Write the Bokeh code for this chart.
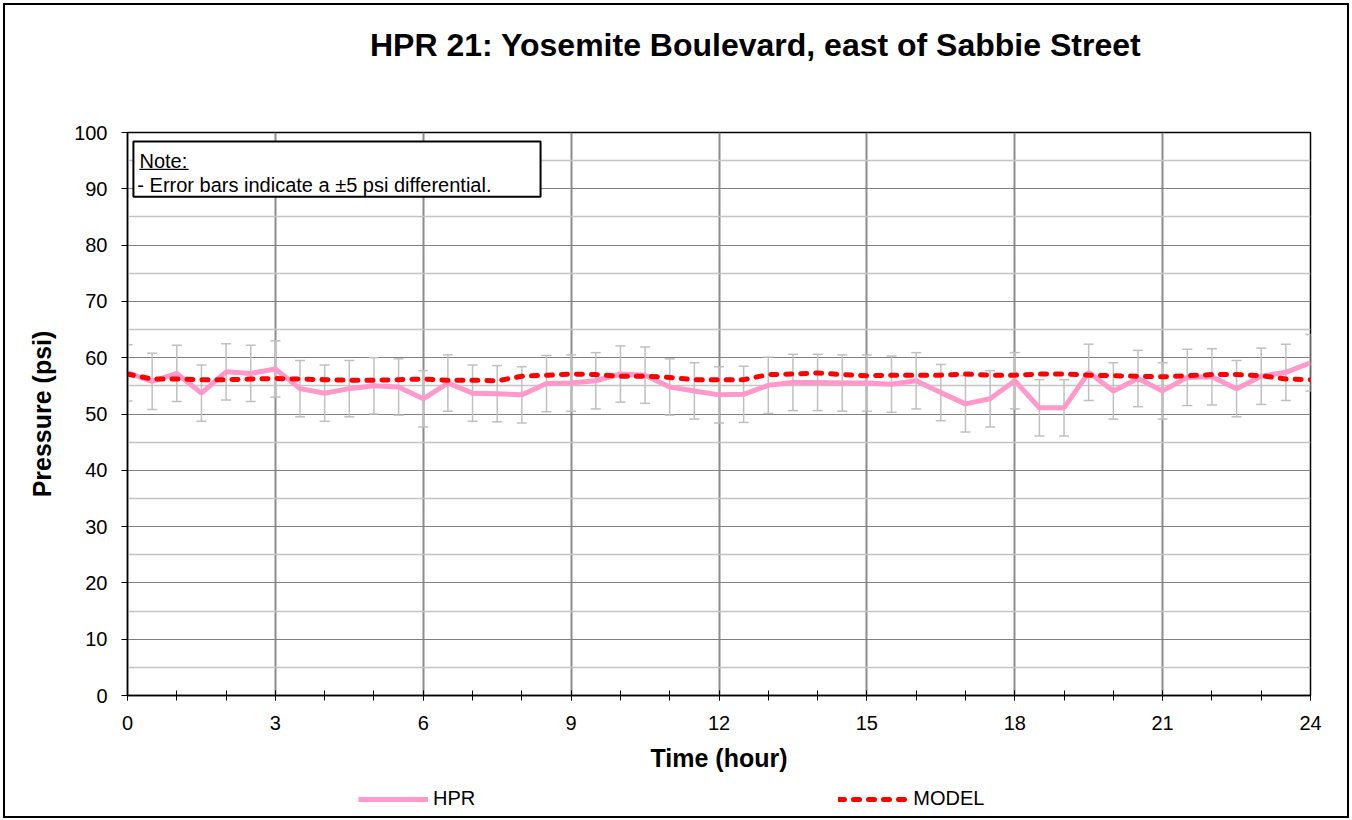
from bokeh.plotting import figure
from bokeh.layouts import column
from bokeh.models import (Range1d, FixedTicker, Label, BoxAnnotation, Legend,
                          LegendItem, ColumnDataSource, Div)
from bokeh.embed import file_html
from bokeh.resources import INLINE

# ---------------- data ----------------
hours = [0, 0.5, 1, 1.5, 2, 2.5, 3, 3.5, 4, 4.5, 5, 5.5, 6, 6.5, 7, 7.5, 8, 8.5,
         9, 9.5, 10, 10.5, 11, 11.5, 12, 12.5, 13, 13.5, 14, 14.5, 15, 15.5, 16,
         16.5, 17, 17.5, 18, 18.5, 19, 19.5, 20, 20.5, 21, 21.5, 22, 22.5, 23,
         23.5, 24]
hpr = [57.3, 55.8, 57.2, 53.7, 57.5, 57.2, 58.0, 54.5, 53.7, 54.5, 55.0, 54.8,
       52.7, 55.5, 53.7, 53.6, 53.4, 55.4, 55.5, 55.9, 57.1, 56.9, 54.8, 54.1,
       53.4, 53.5, 55.1, 55.6, 55.6, 55.5, 55.5, 55.3, 55.9, 53.8, 51.8, 52.7,
       55.9, 51.1, 51.1, 57.4, 54.1, 56.3, 54.1, 56.5, 56.6, 54.5, 56.7, 57.4,
       59.1]
model = [57.1, 56.2, 56.2, 56.1, 56.1, 56.2, 56.3, 56.2, 56.1, 56.0, 56.0, 56.1,
         56.2, 56.0, 56.0, 55.9, 56.7, 56.9, 57.1, 57.0, 56.7, 56.7, 56.5, 56.1,
         56.1, 56.1, 57.0, 57.1, 57.3, 57.0, 56.8, 56.9, 56.9, 56.9, 57.1, 56.9,
         56.9, 57.1, 57.1, 56.9, 56.8, 56.7, 56.6, 56.8, 57.0, 57.0, 56.8, 56.2,
         56.1]
err_psi = 5
x_ticks = [0, 3, 6, 9, 12, 15, 18, 21, 24]
x_minor_ticks = [0, 1, 2, 3, 4, 5, 6, 7, 8, 9, 10, 11, 12, 13, 14, 15, 16, 17,
                 18, 19, 20, 21, 22, 23, 24]
y_ticks = [0, 10, 20, 30, 40, 50, 60, 70, 80, 90, 100]
y_minor_ticks = [5, 15, 25, 35, 45, 55, 65, 75, 85, 95]

title_text = "HPR 21: Yosemite Boulevard, east of Sabbie Street"
x_title = "Time (hour)"
y_title = "Pressure (psi)"
note_head = "Note:"
note_body = "- Error bars indicate a \u00b15 psi differential."
series_names = ["HPR", "MODEL"]

FONT = "Liberation Sans"
HPR_STYLE = dict(line_color="#FF99CC", line_width=5)
MODEL_STYLE = dict(line_color="#FF0000", line_width=5, line_dash="6 9",
                   line_cap="round")

src = ColumnDataSource(dict(
    t=hours, hpr=hpr, model=model,
    lo=[v - err_psi for v in hpr], hi=[v + err_psi for v in hpr]))

W = 1342

# ---------------- title ----------------
title_div = Div(
    text=('<div style="margin-top:22px;line-height:36px;height:36px;'
          'padding-left:365px;white-space:nowrap;'
          'font-family:\'Liberation Sans\';font-size:32px;font-weight:bold;'
          'color:black;">' + title_text + '</div>'),
    width=W, height=80, margin=0)

# ---------------- main chart ----------------
p = figure(width=W, height=695, output_backend="svg", toolbar_location=None,
           x_range=Range1d(0, 24), y_range=Range1d(0, 100),
           min_border_left=122, min_border_right=37,
           min_border_top=47, min_border_bottom=85, margin=0)
p.title.visible = False
p.background_fill_color = "white"
p.border_fill_color = "white"
p.outline_line_color = "black"
p.outline_line_width = 1.5

p.xaxis.ticker = FixedTicker(ticks=x_ticks, minor_ticks=x_minor_ticks)
p.yaxis.ticker = FixedTicker(ticks=y_ticks, minor_ticks=y_minor_ticks)
for ax in (p.xaxis[0], p.yaxis[0]):
    ax.axis_line_color = "black"
    ax.axis_line_width = 1.5
    ax.major_tick_line_color = "black"
    ax.minor_tick_line_color = "black"
    ax.major_label_text_font = FONT
    ax.major_label_text_font_size = "20px"
    ax.major_label_text_color = "black"
    ax.axis_label_text_font = FONT
    ax.axis_label_text_font_style = "bold"
    ax.axis_label_text_font_size = "25px"
    ax.axis_label_text_color = "black"

p.xaxis.axis_label = x_title
p.xaxis.major_tick_in = 5
p.xaxis.major_tick_out = 5
p.xaxis.minor_tick_in = 5
p.xaxis.minor_tick_out = 5
p.xaxis.major_label_standoff = 15
p.xaxis.axis_label_standoff = 11

p.yaxis.axis_label = y_title
p.yaxis.major_tick_in = 0
p.yaxis.major_tick_out = 6
p.yaxis.minor_tick_in = 0
p.yaxis.minor_tick_out = 0
p.yaxis.major_label_standoff = 14
p.yaxis.axis_label_standoff = 15

p.xgrid.ticker = FixedTicker(ticks=x_ticks)
p.xgrid.grid_line_color = "#8c8c8c"
p.xgrid.grid_line_width = 2
p.ygrid.ticker = FixedTicker(ticks=y_ticks, minor_ticks=y_minor_ticks)
p.ygrid.grid_line_color = "#808080"
p.ygrid.grid_line_width = 1
p.ygrid.minor_grid_line_color = "#c4c4c4"
p.ygrid.minor_grid_line_width = 1.5

# error bars
p.segment(x0="t", y0="lo", x1="t", y1="hi", source=src,
          line_color="#c0c0c0", line_width=1.5)
p.scatter(x="t", y="hi", source=src, marker="dash", size=10,
          line_color="#c0c0c0", line_width=1.5)
p.scatter(x="t", y="lo", source=src, marker="dash", size=10,
          line_color="#c0c0c0", line_width=1.5)

p.line(x="t", y="hpr", source=src, **HPR_STYLE)
p.line(x="t", y="model", source=src, **MODEL_STYLE)

# note box
p.add_layout(BoxAnnotation(left=0.12, right=8.38, top=98.4, bottom=88.6,
                           fill_color="white", fill_alpha=1,
                           line_color="black", line_alpha=1, line_width=2))
p.add_layout(BoxAnnotation(left=0.243, right=1.238, top=93.45, bottom=93.45,
                           fill_alpha=0, line_color="black", line_alpha=1,
                           line_width=1))
p.add_layout(Label(x=0.243, y=94.85, text=note_head, text_font=FONT,
                   text_font_size="20px", text_baseline="middle",
                   text_align="left", text_color="black"))
p.add_layout(Label(x=0.2, y=90.6, text=note_body, text_font=FONT,
                   text_font_size="20px", text_baseline="middle",
                   text_align="left", text_color="black"))

# ---------------- legend strip ----------------
pl = figure(width=W, height=36, output_backend="svg", toolbar_location=None,
            x_range=Range1d(0, 24), y_range=Range1d(-300, -200),
            x_axis_type=None, y_axis_type=None,
            min_border_left=0, min_border_right=0, min_border_top=0,
            min_border_bottom=0, margin=0)
pl.title.visible = False
pl.grid.visible = False
pl.outline_line_color = None
pl.background_fill_color = "white"
pl.border_fill_color = "white"
l_hpr = pl.line(x="t", y="hpr", source=src, **HPR_STYLE)
l_mod = pl.line(x="t", y="model", source=src, **MODEL_STYLE)

legend = Legend(items=[LegendItem(label=series_names[0], renderers=[l_hpr]),
                       LegendItem(label=series_names[1], renderers=[l_mod])],
                location=(231, 6), orientation="horizontal",
                glyph_width=70, glyph_height=20, spacing=363,
                label_standoff=5, padding=0, margin=0,
                border_line_color=None, background_fill_alpha=0,
                label_text_font=FONT, label_text_font_size="20px",
                label_text_color="black")
pl.add_layout(legend)

layout = column(title_div, p, pl, margin=(3, 0, 0, 3), spacing=0,
                styles={"border": "2px solid black", "background": "white"})

open("out.html", "w").write(file_html(layout, INLINE))
